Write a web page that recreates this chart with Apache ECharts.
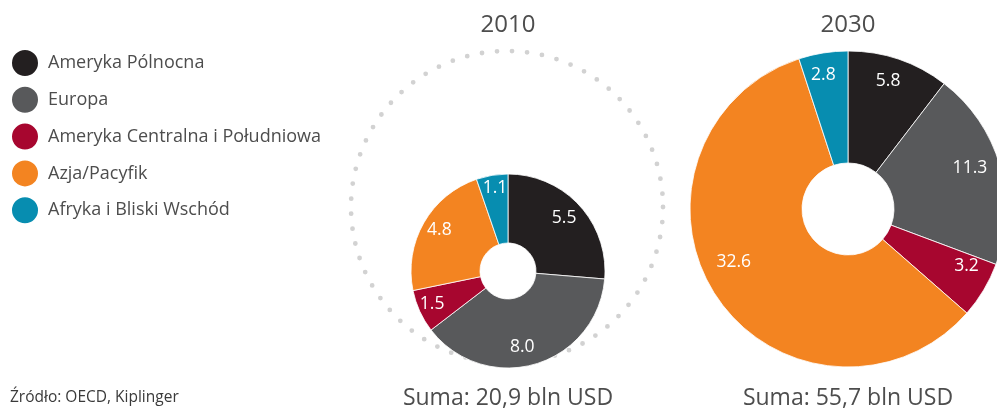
<!DOCTYPE html>
<html><head><meta charset="utf-8">
<script src="https://cdn.jsdelivr.net/npm/echarts@6/dist/echarts.min.js"></script>
<style>html,body{margin:0;padding:0;background:#fff}#c{width:997px;height:410px}</style>
</head><body><div id="c"></div>
<script>
const regions = ['Ameryka Pólnocna','Europa','Ameryka Centralna i Południowa','Azja/Pacyfik','Afryka i Bliski Wschód'];
const colors = ['#231f20','#58595b','#a7062f','#f38421','#078db0'];
const values2010 = [5.5, 8.0, 1.5, 4.8, 1.1];
const values2030 = [5.8, 11.3, 3.2, 32.6, 2.8];
const years = ['2010','2030'];
const totals = ['Suma: 20,9 bln USD','Suma: 55,7 bln USD'];
const source = 'Źródło: OECD, Kiplinger';

const FONT = '"Open Sans", "Noto Sans", sans-serif';
const chart = echarts.init(document.getElementById('c'));

function donut(vals, center, r0, r) {
  return {
    type: 'pie', center: center, radius: [r0, r], startAngle: 90, clockwise: true,
    avoidLabelOverlap: false, animation: false, silent: true,
    itemStyle: { borderColor: '#fff', borderWidth: 0.8 },
    label: { show: false }, labelLine: { show: false },
    data: vals.map((v, i) => ({ name: regions[i], value: v, itemStyle: { color: colors[i] } }))
  };
}
function labels(vals, center, r0, r, offsets) {
  return {
    type: 'pie', center: center, radius: [r0, r], startAngle: 90, clockwise: true,
    avoidLabelOverlap: false, animation: false, silent: true, legendHoverLink: false,
    itemStyle: { color: 'rgba(0,0,0,0)' },
    label: { show: true, position: 'inside', color: '#fff', fontFamily: FONT, fontSize: 17.5,
      formatter: p => p.value.toFixed(1) },
    labelLine: { show: false },
    data: vals.map((v, i) => ({ name: regions[i] + ' ', value: v,
      label: { offset: (offsets && offsets[i]) || [0, 0] } }))
  };
}

const c1 = [508, 271], c2 = [848, 209];
chart.setOption({
  color: colors,
  textStyle: { fontFamily: FONT },
  legend: {
    orient: 'vertical', left: 10, top: 48, padding: 0, icon: 'circle',
    itemWidth: 28, itemHeight: 28, itemGap: 6.8,
    data: regions,
    textStyle: { color: '#4d4d4d', fontSize: 18, fontFamily: FONT, padding: [0, 0, 0, 4] },
    selectedMode: false
  },
  title: [
    { text: years[0], left: c1[0], top: 13, padding: 0, textAlign: 'center', textStyle: { fontSize: 24, fontWeight: 'normal', color: '#4d4d4d', fontFamily: FONT } },
    { text: years[1], left: c2[0], top: 13, padding: 0, textAlign: 'center', textStyle: { fontSize: 24, fontWeight: 'normal', color: '#4d4d4d', fontFamily: FONT } },
    { text: totals[0], left: c1[0], top: 387, padding: 0, textAlign: 'center', textStyle: { fontSize: 23, fontWeight: 'normal', color: '#4d4d4d', fontFamily: FONT } },
    { text: totals[1], left: c2[0], top: 387, padding: 0, textAlign: 'center', textStyle: { fontSize: 23, fontWeight: 'normal', color: '#4d4d4d', fontFamily: FONT } },
    { text: source, left: 10, top: 390, padding: 0, textStyle: { fontSize: 15.5, fontWeight: 'normal', color: '#3a3a3a', fontFamily: FONT } }
  ],
  graphic: [{
    type: 'circle', shape: { cx: 507, cy: 207, r: 156 }, silent: true, z: 0,
    style: { fill: 'none', stroke: '#d2d2d2', lineWidth: 4.8, lineCap: 'round', lineDash: [0, 15.1] }
  }],
  series: [
    donut(values2010, c1, 28, 97),
    donut(values2030, c2, 46, 158),
    labels(values2010, c1, 55, 97, [[-2, 1], [-8, 0], [-4, 0], [0, -2], [0, -5]]),
    labels(values2030, c2, 98, 158, [[-2, -4], [-4, -5], [6, -10], [-5, -19], [-4, -5]])
  ]
});
</script></body></html>
